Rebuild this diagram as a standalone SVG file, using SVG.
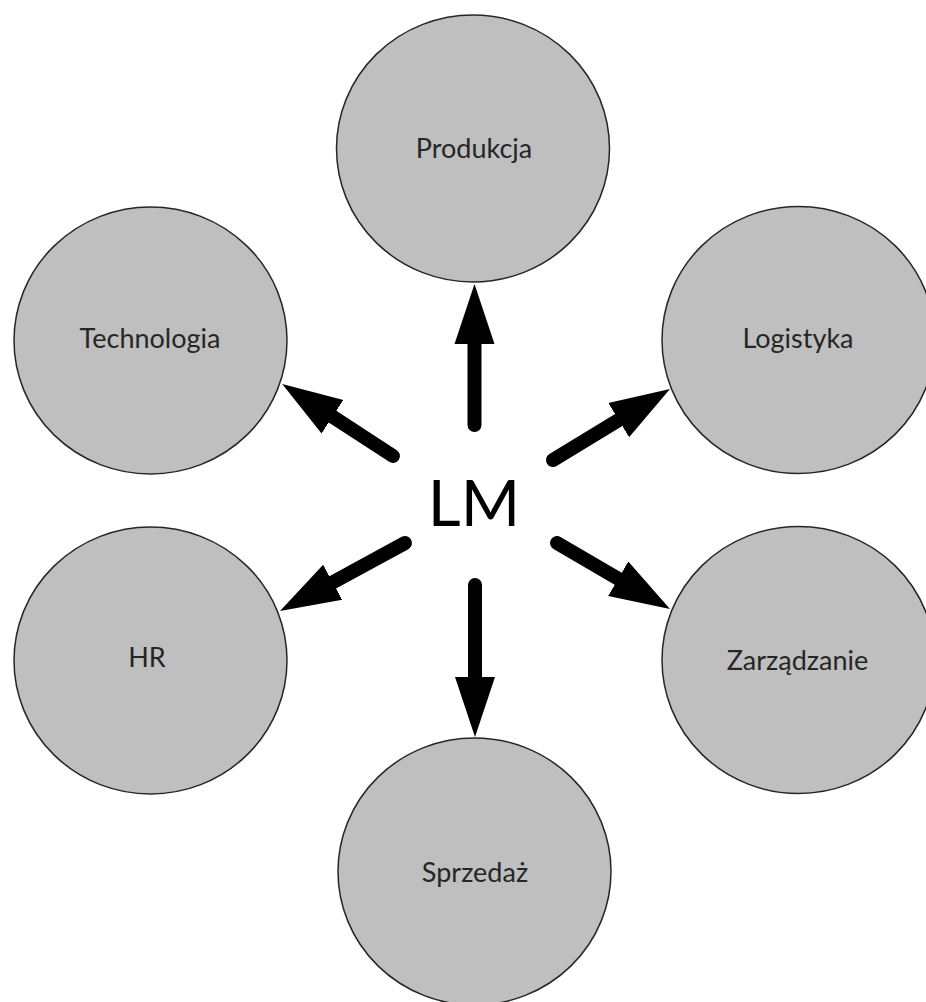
<svg xmlns="http://www.w3.org/2000/svg" width="926" height="1002" viewBox="0 0 926 1002">
  <style>
    .node ellipse { fill: #bfbfbf; stroke: #262626; stroke-width: 1.5; }
    .node text { font-family: Lato, "Open Sans", sans-serif; font-size: 27px; fill: #262626; text-anchor: middle; }
    .hub { font-family: Lato, "Open Sans", sans-serif; font-size: 64px; fill: #000; text-anchor: middle; }
    #connectors line { stroke: #000; stroke-width: 14; stroke-linecap: round; marker-end: url(#head); }
  </style>
  <defs>
    <marker id="head" markerUnits="userSpaceOnUse" viewBox="0 -21 61 42" markerWidth="61" markerHeight="42" refX="0" refY="0" orient="auto">
      <path d="M0,-20 L60,0 L0,20 Z" fill="#000"/>
    </marker>
  </defs>
  <rect width="926" height="1002" fill="#fff"/>

  <g id="node-produkcja" class="node">
    <ellipse cx="473" cy="148.5" rx="136.5" ry="133.5"/>
    <text x="474" y="158">Produkcja</text>
  </g>
  <g id="node-technologia" class="node">
    <ellipse cx="150.5" cy="340.5" rx="136.5" ry="133.5"/>
    <text x="150" y="348">Technologia</text>
  </g>
  <g id="node-logistyka" class="node">
    <ellipse cx="798.5" cy="340" rx="136.5" ry="133.5"/>
    <text x="798" y="348">Logistyka</text>
  </g>
  <g id="node-hr" class="node">
    <ellipse cx="150.5" cy="660.5" rx="136.5" ry="133.5"/>
    <text x="147" y="667">HR</text>
  </g>
  <g id="node-zarzadzanie" class="node">
    <ellipse cx="798.5" cy="660" rx="136.5" ry="133.5"/>
    <text x="797.5" y="670">Zarządzanie</text>
  </g>
  <g id="node-sprzedaz" class="node">
    <ellipse cx="474.5" cy="871.5" rx="136.5" ry="133.5"/>
    <text x="475" y="882">Sprzedaż</text>
  </g>

  <g id="node-lm">
    <text class="hub" x="474" y="526">LM</text>
  </g>

  <g id="connectors">
    <line x1="474.5" y1="425" x2="474.5" y2="344"/>
    <line x1="475" y1="585" x2="475" y2="677"/>
    <line x1="393" y1="456" x2="332.5" y2="416.7"/>
    <line x1="553" y1="460" x2="618.7" y2="420.1"/>
    <line x1="557" y1="543" x2="618.2" y2="578.7"/>
    <line x1="405" y1="543" x2="332.7" y2="582.3"/>
  </g>
</svg>
